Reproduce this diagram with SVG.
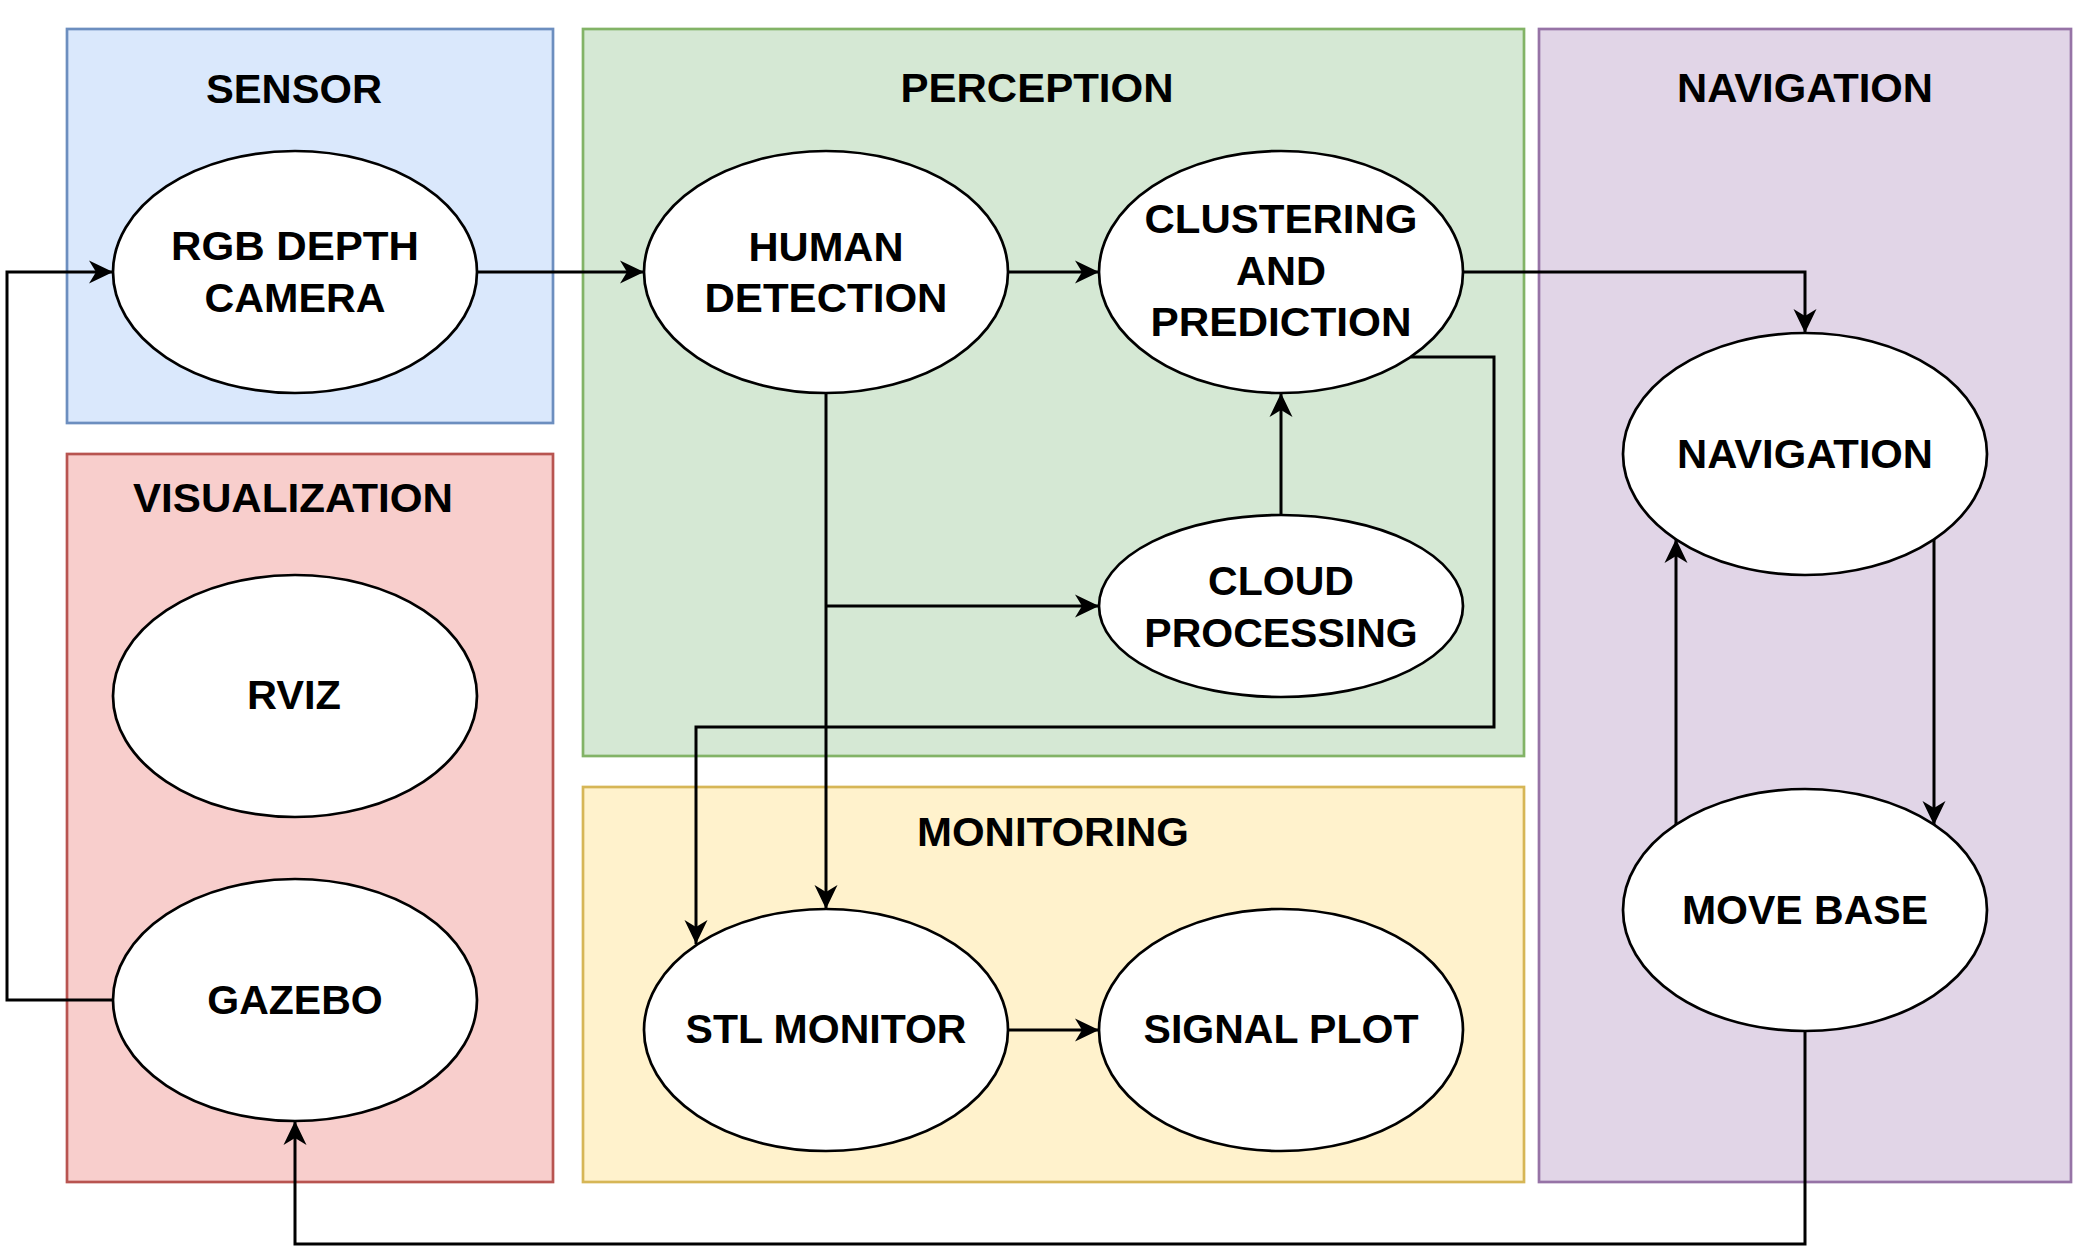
<svg xmlns="http://www.w3.org/2000/svg" width="2087" height="1252" viewBox="0 0 2087 1252">
  <style>
    .box { stroke-width: 2.7; }
    .node ellipse { fill: #ffffff; stroke: #000000; stroke-width: 2.7; }
    text { font-family: "Liberation Sans", Arial, Helvetica, sans-serif; font-weight: bold; font-size: 41px; fill: #000000; text-anchor: middle; }
    .conn path { fill: none; stroke: #000000; stroke-width: 3; }
  </style>
  <defs>
    <marker id="arrow" markerUnits="userSpaceOnUse" markerWidth="28" markerHeight="28" viewBox="-26 -14 28 28" refX="0" refY="0" orient="auto">
      <path d="M0,0 L-24,-11.5 L-17,0 L-24,11.5 Z" fill="#000000"/>
    </marker>
  </defs>
  <rect width="2087" height="1252" fill="#ffffff"/>

  <g id="containers">
    <g id="group-sensor">
      <rect class="box" x="67" y="29" width="486" height="394" fill="#dae8fc" stroke="#6c8ebf"/>
      <text x="294" y="103" textLength="176" lengthAdjust="spacingAndGlyphs">SENSOR</text>
    </g>
    <g id="group-visualization">
      <rect class="box" x="67" y="454" width="486" height="728" fill="#f8cecc" stroke="#b85450"/>
      <text x="293" y="512" textLength="320" lengthAdjust="spacingAndGlyphs">VISUALIZATION</text>
    </g>
    <g id="group-perception">
      <rect class="box" x="583" y="29" width="941" height="727" fill="#d5e8d4" stroke="#82b366"/>
      <text x="1037" y="102" textLength="273" lengthAdjust="spacingAndGlyphs">PERCEPTION</text>
    </g>
    <g id="group-monitoring">
      <rect class="box" x="583" y="787" width="941" height="395" fill="#fff2cc" stroke="#d6b656"/>
      <text x="1053" y="846" textLength="272" lengthAdjust="spacingAndGlyphs">MONITORING</text>
    </g>
    <g id="group-navigation">
      <rect class="box" x="1539" y="29" width="532" height="1153" fill="#e1d5e7" stroke="#9673a6"/>
      <text x="1805" y="102" textLength="256" lengthAdjust="spacingAndGlyphs">NAVIGATION</text>
    </g>
  </g>

  <g id="connectors" class="conn">
    <path id="e-rgb-human" d="M477,272 L644,272" marker-end="url(#arrow)"/>
    <path id="e-gazebo-rgb" d="M113,1000 L7,1000 L7,272 L113,272" marker-end="url(#arrow)"/>
    <path id="e-human-cluster" d="M1008,272 L1099,272" marker-end="url(#arrow)"/>
    <path id="e-cluster-nav" d="M1463,272 L1805,272 L1805,333" marker-end="url(#arrow)"/>
    <path id="e-cluster-stl" d="M1411,357 L1494,357 L1494,727 L696,727 L696,944" marker-end="url(#arrow)"/>
    <path id="e-human-stl" d="M826,393 L826,909" marker-end="url(#arrow)"/>
    <path id="e-human-cloud" d="M826,606 L1099,606" marker-end="url(#arrow)"/>
    <path id="e-cloud-cluster" d="M1281,515 L1281,393" marker-end="url(#arrow)"/>
    <path id="e-stl-signal" d="M1008,1030 L1099,1030" marker-end="url(#arrow)"/>
    <path id="e-nav-movebase" d="M1934,539 L1934,825" marker-end="url(#arrow)"/>
    <path id="e-movebase-nav" d="M1676,825 L1676,539" marker-end="url(#arrow)"/>
    <path id="e-movebase-gazebo" d="M1805,1031 L1805,1244 L295,1244 L295,1121" marker-end="url(#arrow)"/>
  </g>

  <g id="node-rgb" class="node">
    <ellipse cx="295" cy="272" rx="182" ry="121"/>
    <text x="295" y="260" textLength="248" lengthAdjust="spacingAndGlyphs">RGB DEPTH</text>
    <text x="295" y="312" textLength="181" lengthAdjust="spacingAndGlyphs">CAMERA</text>
  </g>
  <g id="node-human" class="node">
    <ellipse cx="826" cy="272" rx="182" ry="121"/>
    <text x="826" y="261" textLength="155" lengthAdjust="spacingAndGlyphs">HUMAN</text>
    <text x="826" y="312" textLength="243" lengthAdjust="spacingAndGlyphs">DETECTION</text>
  </g>
  <g id="node-cluster" class="node">
    <ellipse cx="1281" cy="272" rx="182" ry="121"/>
    <text x="1281" y="233" textLength="273" lengthAdjust="spacingAndGlyphs">CLUSTERING</text>
    <text x="1281" y="285" textLength="90" lengthAdjust="spacingAndGlyphs">AND</text>
    <text x="1281" y="336" textLength="261" lengthAdjust="spacingAndGlyphs">PREDICTION</text>
  </g>
  <g id="node-cloud" class="node">
    <ellipse cx="1281" cy="606" rx="182" ry="91"/>
    <text x="1281" y="595">CLOUD</text>
    <text x="1281" y="647">PROCESSING</text>
  </g>
  <g id="node-navigation" class="node">
    <ellipse cx="1805" cy="454" rx="182" ry="121"/>
    <text x="1805" y="468" textLength="256" lengthAdjust="spacingAndGlyphs">NAVIGATION</text>
  </g>
  <g id="node-movebase" class="node">
    <ellipse cx="1805" cy="910" rx="182" ry="121"/>
    <text x="1805" y="924">MOVE BASE</text>
  </g>
  <g id="node-rviz" class="node">
    <ellipse cx="295" cy="696" rx="182" ry="121"/>
    <text x="294" y="709" textLength="94" lengthAdjust="spacingAndGlyphs">RVIZ</text>
  </g>
  <g id="node-gazebo" class="node">
    <ellipse cx="295" cy="1000" rx="182" ry="121"/>
    <text x="295" y="1014">GAZEBO</text>
  </g>
  <g id="node-stl" class="node">
    <ellipse cx="826" cy="1030" rx="182" ry="121"/>
    <text x="826" y="1043">STL MONITOR</text>
  </g>
  <g id="node-signal" class="node">
    <ellipse cx="1281" cy="1030" rx="182" ry="121"/>
    <text x="1281" y="1043">SIGNAL PLOT</text>
  </g>
</svg>
